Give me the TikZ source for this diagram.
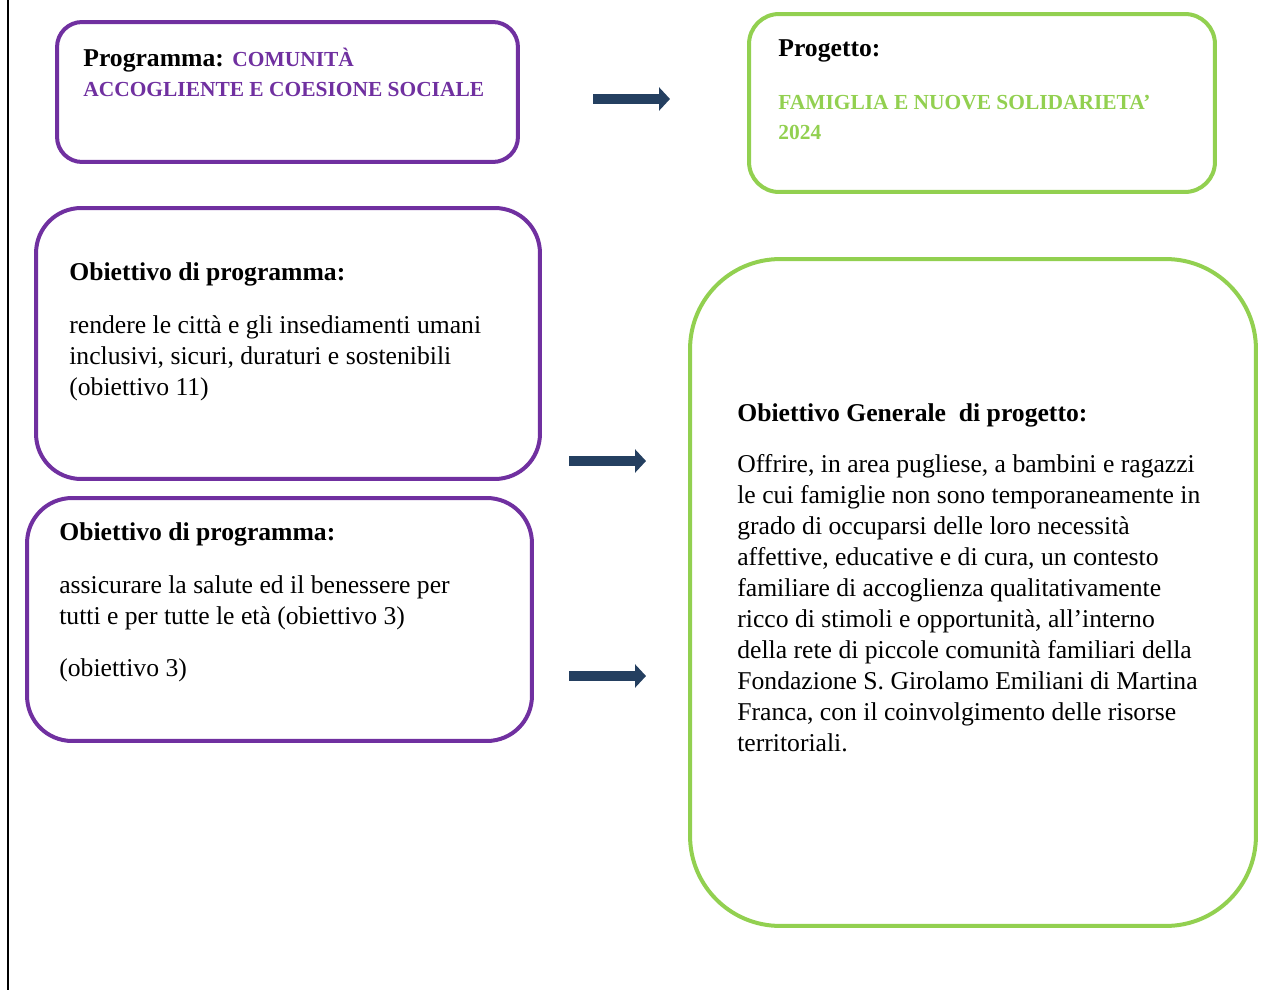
\documentclass[tikz,border=0pt]{standalone}
\usepackage{fontspec}
\setmainfont{Liberation Serif}
\usepackage{xcolor}
\usepackage{tikz}
\usetikzlibrary{arrows.meta, positioning}
\definecolor{progpurple}{HTML}{7030A0}
\definecolor{projgreen}{HTML}{92D050}
\definecolor{arrownavy}{HTML}{243F60}
\tikzset{
  pbox/.style={draw=progpurple, line width=0.08cm, rounded corners=0.5cm,
               inner sep=0pt, fill=white},
  gbox/.style={pbox, draw=projgreen},
  % base anchor sits on the last line of the block
  txt/.style={anchor=base west, inner sep=0pt, align=left,
              font=\fontsize{14.6}{17.6}\selectfont},
  bigarrow/.style={-{Triangle[length=0.22cm, width=0.46cm]}, line width=0.19cm,
                   draw=arrownavy},
}
\newcommand{\capsp}[1]{{\fontsize{12.2}{17.6}\selectfont\bfseries\color{progpurple}#1}}
\newcommand{\capsg}[1]{{\fontsize{12.2}{17.6}\selectfont\bfseries\color{projgreen}#1}}

\begin{document}
\begin{tikzpicture}[x=0.02cm, y=-0.02cm]
  \useasboundingbox (0,0) rectangle (1275,990);
  \coordinate (edgetop) at (8,0);
  \coordinate (edgebot) at (8,990);
  \draw[line width=0.04cm] (edgetop) -- (edgebot);

  % programme side
  \node[pbox, minimum width=9.22cm, minimum height=2.8cm] (prog) at (287.5,92) {};
  \node[pbox, rounded corners=0.9cm, minimum width=10.08cm, minimum height=5.42cm] (obj11) at (288,343.5) {};
  \node[pbox, rounded corners=0.9cm, minimum width=10.1cm, minimum height=4.86cm] (obj3) at (279.5,619.5) {};

  % project side
  \node[gbox, rounded corners=0.6cm, minimum width=9.32cm, minimum height=3.56cm] (proj) at (982,103) {};
  \node[gbox, rounded corners=1.8cm, minimum width=11.32cm, minimum height=13.34cm] (goal) at (973,592.5) {};

  \node[txt] (progtxt) at (83,97) {\textbf{Programma:} \capsp{COMUNITÀ}\\
    \capsp{ACCOGLIENTE E COESIONE SOCIALE}};
  \node[txt] (projtxt) at (778,140) {\textbf{Progetto:}\\[0.44cm]
    \capsg{FAMIGLIA E NUOVE SOLIDARIETA’}\\
    \capsg{2024}};
  \node[txt] (obj11txt) at (69,395) {\textbf{Obiettivo di programma:}\\[0.44cm]
    rendere le città e gli insediamenti umani\\
    inclusivi, sicuri, duraturi e sostenibili\\
    (obiettivo 11)};
  \node[txt] (obj3txt) at (59,676) {\textbf{Obiettivo di programma:}\\[0.44cm]
    assicurare la salute ed il benessere per\\
    tutti e per tutte le età (obiettivo 3)\\[0.42cm]
    (obiettivo 3)};
  \node[txt] (goaltxt) at (737,751) {\textbf{Obiettivo Generale~ di progetto:}\\[0.4cm]
    Offrire, in area pugliese, a bambini e ragazzi\\
    le cui famiglie non sono temporaneamente in\\
    grado di occuparsi delle loro necessità\\
    affettive, educative e di cura, un contesto\\
    familiare di accoglienza qualitativamente\\
    ricco di stimoli e opportunità, all’interno\\
    della rete di piccole comunità familiari della\\
    Fondazione S. Girolamo Emiliani di Martina\\
    Franca, con il coinvolgimento delle risorse\\
    territoriali.};

  % arrows between the two columns
  \coordinate (a1s) at (593,99);  \coordinate (a1e) at (670,99);
  \coordinate (a2s) at (569,461); \coordinate (a2e) at (646,461);
  \coordinate (a3s) at (569,676); \coordinate (a3e) at (646,676);
  \draw[bigarrow] (a1s) -- (a1e);
  \draw[bigarrow] (a2s) -- (a2e);
  \draw[bigarrow] (a3s) -- (a3e);
\end{tikzpicture}
\end{document}
